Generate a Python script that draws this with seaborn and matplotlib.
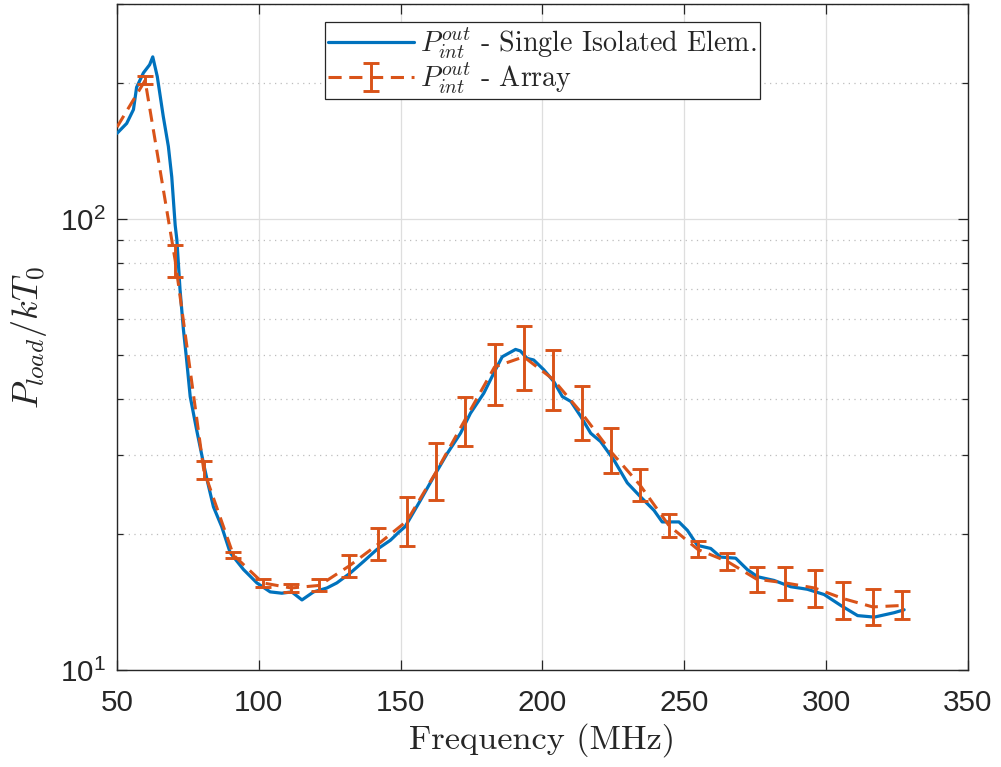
import numpy as np
import pandas as pd
import matplotlib
matplotlib.use("Agg")
import matplotlib.pyplot as plt
import seaborn as sns
from matplotlib.ticker import LogLocator, NullFormatter, FixedLocator
from matplotlib.legend_handler import HandlerTuple

# ---------------- data ----------------
single_freq = [50, 53.4, 55.8, 56.9, 59.3, 61.5, 62.6, 64.2, 66.3, 68.1, 69.3, 70.5,
               71.1, 72.2, 73.4, 74.5, 75.8, 78.1, 80.5, 82, 84, 86.9, 89.9, 94.6,
               99.3, 104, 108.1, 111.6, 115.2, 119.3, 124, 127.5, 132.2, 136.9,
               141.6, 146.4, 149.3, 151.6, 157, 161.6, 166.4, 171.1, 174.6, 179.3,
               183.4, 185.8, 190.5, 192.2, 194.6, 196.9, 200.5, 204, 207, 210,
               213.5, 217, 220.5, 225.2, 229.9, 234.6, 239.3, 242.2, 248.1, 251.1,
               254.6, 259.3, 262.8, 268.1, 272.2, 275.8, 281.6, 287.5, 293.4,
               299.3, 305.2, 311.1, 317, 324, 327.5]
single_val = [155, 163, 175, 196, 211, 220, 229, 207, 169, 145, 124, 97,
              90, 70, 57, 49, 40.4, 34, 28.7, 26, 23, 20.8, 18.2, 16.7,
              15.6, 14.9, 14.8, 14.9, 14.3, 14.9, 15.2, 15.6, 16.4, 17.4,
              18.5, 19.4, 20.2, 20.8, 23.8, 26.8, 30.2, 33.5, 37.1, 41.1,
              46.3, 49.5, 51.4, 51, 49.1, 48.7, 46.3, 43.6, 40.4, 39.4,
              36.5, 33.5, 32.1, 29.2, 26.0, 24.2, 22.6, 21.3, 21.3, 20.4,
              18.9, 18.6, 17.8, 17.7, 16.7, 16.1, 15.8, 15.3, 15.1,
              14.7, 13.9, 13.2, 13.1, 13.4, 13.6]

array_freq = [50, 59.9, 70.5, 80.6, 91.0, 101.4, 111.4, 121.3, 131.8, 142.0,
              152.2, 162.5, 172.8, 183.1, 193.4, 203.6, 214.0, 224.1, 234.4,
              244.6, 254.8, 265.2, 275.5, 285.6, 295.9, 306.0, 316.4, 326.6]
array_val = [160, 203, 81, 27.7, 18.0, 15.6, 15.2, 15.4, 17.0, 19.0,
             21.4, 27.5, 36.0, 47.0, 49.5, 44.2, 37.0, 30.5, 25.7,
             20.9, 18.5, 17.4, 15.9, 15.6, 15.2, 14.4, 13.8, 13.9]
array_low = [np.nan, 199, 74.5, 26.5, 17.7, 15.3, 14.9, 15.0, 16.1, 17.5,
             18.8, 23.8, 31.4, 38.7, 41.8, 37.7, 32.4, 27.4, 23.7,
             19.7, 17.8, 16.7, 14.9, 14.3, 13.8, 13.0, 12.6, 13.0]
array_high = [np.nan, 208, 87.5, 29.0, 18.3, 15.9, 15.5, 15.9, 18.0, 20.6,
              24.2, 31.9, 40.3, 52.8, 57.8, 51.2, 42.6, 34.4, 27.9,
              22.2, 19.3, 18.2, 16.9, 16.9, 16.7, 15.7, 15.1, 15.0]

x_ticks = [50, 100, 150, 200, 250, 300, 350]
label_single = r"$P_{int}^{out}$ - Single Isolated Elem."
label_array = r"$P_{int}^{out}$ - Array"

# ---------------- style ----------------
sns.set_theme(style="white")
plt.rcParams["font.family"] = ["Liberation Sans", "DejaVu Sans"]
plt.rcParams["mathtext.fontset"] = "cm"

BLUE = "#0072BD"
ORANGE = "#D95319"

fig = plt.figure(figsize=(10.01, 7.67), dpi=100)
ax = fig.add_axes([0.1169, 0.1265, 0.8501, 0.8683])

df_single = pd.DataFrame({"f": single_freq, "v": single_val})
df_array = pd.DataFrame({"f": array_freq, "v": array_val})

sns.lineplot(data=df_single, x="f", y="v", ax=ax, color=BLUE, lw=2.3,
             estimator=None, sort=False, zorder=3)
sns.lineplot(data=df_array, x="f", y="v", ax=ax, color=ORANGE, lw=2.2,
             linestyle=(0, (4.3, 2.5)), estimator=None, sort=False, zorder=4)
line_single = ax.lines[0]
line_array = ax.lines[1]

ef = np.array(array_freq[1:])
ev = np.array(array_val[1:])
elo = ev - np.array(array_low[1:])
ehi = np.array(array_high[1:]) - ev
errc = ax.errorbar(ef, ev, yerr=[elo, ehi], fmt="none", ecolor=ORANGE,
                   elinewidth=2.1, capsize=5.6, capthick=2.1, zorder=5)

ax.set_yscale("log")
ax.set_xlim(50, 350)
ax.set_ylim(10, 300)
ax.xaxis.set_major_locator(FixedLocator(x_ticks))
ax.yaxis.set_major_locator(LogLocator(base=10))
ax.yaxis.set_minor_locator(LogLocator(base=10, subs=np.arange(2, 10)))
ax.yaxis.set_minor_formatter(NullFormatter())

# grids
ax.grid(which="major", axis="both", color="#dedede", lw=0.9, ls="-", zorder=0)
ax.grid(which="minor", axis="y", color="#bdbdbd", lw=0.9, ls=(0, (1, 3.5)), zorder=0)
ax.set_axisbelow(True)

# ticks & spines
ax.tick_params(which="both", direction="in", top=True, right=True,
               bottom=True, left=True, color="#262626", width=0.9)
ax.tick_params(which="major", length=7.5, labelsize=21.3, labelcolor="#262626")
ax.tick_params(axis="x", which="major", pad=14)
ax.tick_params(axis="y", which="major", pad=8)
ax.tick_params(which="minor", length=4)
ax.tick_params(axis="x", which="minor", bottom=False, top=False)
for s in ax.spines.values():
    s.set_color("#262626")
    s.set_linewidth(1.0)
    s.set_visible(True)

ax.set_xlabel("Frequency (MHz)", fontfamily="cmr10", fontsize=24.7, color="#262626",
              labelpad=4)
ax.set_ylabel(r"$P_{load}/kT_0$", fontsize=26, color="#262626", labelpad=8)

leg = ax.legend([line_single, (line_array, errc)], [label_single, label_array],
                handler_map={tuple: HandlerTuple(ndivide=1)},
                loc="upper center", bbox_to_anchor=(0.5, 0.973), borderaxespad=0,
                prop={"family": "cmr10", "size": 20.2}, frameon=True,
                fancybox=False, framealpha=1, edgecolor="#262626",
                handlelength=3.05, handletextpad=0.22, labelspacing=0.0,
                borderpad=0.12)
leg.get_frame().set_linewidth(0.9)

fig.savefig("out.png", dpi=100)
